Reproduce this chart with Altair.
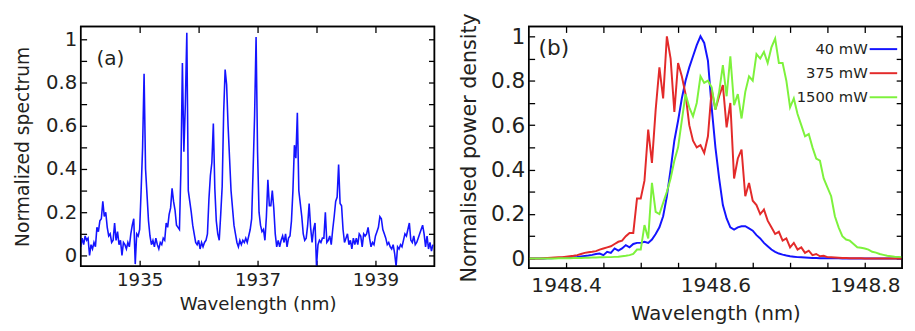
import json
import altair as alt
import pandas as pd

FONT = "DejaVu Sans"
TXT = "#231f20"
FRAME = "black"

# ---------------- panel (a) data ----------------
A_WL = [round(1934 + 0.025 * i, 3) for i in range(240)]
A_SPEC = [
    0.04, 0.08, 0.05, 0.09, 0.07, 0.08, 0.00, 0.05, 0.03, 0.06,
    0.04, 0.13, 0.11, 0.16, 0.17, 0.25, 0.18, 0.20, 0.13, 0.09,
    0.10, 0.06, 0.07, 0.15, 0.07, 0.11, 0.05, 0.07, 0.00, 0.06,
    0.05, 0.03, 0.06, 0.04, 0.10, 0.14, 0.17, -0.04, 0.10, 0.09,
    0.12, 0.30, 0.50, 0.84, 0.40, 0.28, 0.16, 0.09, 0.05, 0.07,
    0.04, 0.08, 0.05, 0.03, 0.06, 0.05, 0.08, 0.07, 0.15, 0.13,
    0.19, 0.22, 0.31, 0.25, 0.21, 0.14, 0.13, 0.12, 0.40, 0.89,
    0.48, 0.70, 1.03, 0.30, 0.25, 0.20, 0.14, 0.10, 0.06, 0.05,
    0.07, 0.03, 0.06, 0.04, 0.06, 0.07, 0.10, 0.26, 0.37, 0.43,
    0.61, 0.31, 0.16, 0.10, 0.07, 0.19, 0.32, 0.66, 0.86, 0.79,
    0.60, 0.45, 0.30, 0.22, 0.14, 0.10, 0.06, 0.04, 0.07, 0.05,
    0.07, 0.06, 0.08, 0.06, 0.09, 0.12, 0.17, 0.40, 0.65, 1.01,
    0.48, 0.20, 0.14, 0.11, 0.12, 0.07, 0.18, 0.35, 0.23, 0.23,
    0.30, 0.22, 0.10, 0.04, 0.07, 0.04, 0.07, 0.09, 0.06, 0.10,
    0.04, 0.08, 0.09, 0.16, 0.30, 0.51, 0.45, 0.66, 0.30, 0.24,
    0.18, 0.10, 0.07, 0.08, 0.14, 0.24, 0.13, 0.06, 0.12, 0.15,
    -0.05, 0.05, 0.07, 0.06, 0.08, 0.08, 0.20, 0.06, 0.07, 0.09,
    0.05, 0.12, 0.18, 0.25, 0.27, 0.42, 0.24, 0.23, 0.12, 0.06,
    0.08, 0.10, 0.05, 0.07, 0.03, 0.08, 0.05, 0.08, 0.05, 0.10,
    0.09, 0.04, 0.10, 0.09, 0.10, 0.13, 0.08, 0.04, 0.06, 0.05,
    0.09, 0.11, 0.13, 0.18, 0.17, 0.12, 0.10, 0.08, 0.05, 0.06,
    0.04, 0.03, 0.05, 0.01, -0.05, 0.04, 0.03, 0.05, 0.04, 0.07,
    0.10, 0.09, 0.12, 0.15, 0.07, 0.06, 0.09, 0.05, 0.06, 0.08,
    0.10, 0.12, 0.14, 0.10, 0.04, 0.09, 0.03, 0.06, 0.02, 0.05,
]
A_X_TICKS = [1935, 1936, 1937, 1938, 1939]
A_X_LABELS = [1935, 1937, 1939]
Y_TICKS = [0, 0.1, 0.2, 0.3, 0.4, 0.5, 0.6, 0.7, 0.8, 0.9, 1]
Y_LABELS = [0, 0.2, 0.4, 0.6, 0.8, 1]

# ---------------- panel (b) data ----------------
B_WL = [round(1948.35 + 0.005 * i, 3) for i in range(101)]
B_40 = [
    0, 0, 0, 0, 0, 0.001, 0.001, 0.002, 0.002, 0.003,
    0.004, 0.005, 0.006, 0.007, 0.009, 0.011, 0.013, 0.016, 0.02, 0.022,
    0.015, 0.03, 0.025, 0.045, 0.035, 0.045, 0.06, 0.05, 0.065, 0.07,
    0.07, 0.075, 0.07, 0.085, 0.11, 0.14, 0.19, 0.28, 0.40, 0.53,
    0.62, 0.72, 0.80, 0.86, 0.91, 0.96, 1.00, 0.97, 0.89, 0.68,
    0.50, 0.36, 0.24, 0.18, 0.14, 0.13, 0.14, 0.145, 0.145, 0.135,
    0.125, 0.105, 0.09, 0.07, 0.055, 0.04, 0.03, 0.022, 0.017, 0.013,
    0.01, 0.008, 0.006, 0.005, 0.004, 0.003, 0.002, 0.002, 0.001, 0.001,
    0.001, 0.001, 0.001, 0.001, 0, 0, 0, 0, 0, 0,
    0, 0, 0, 0, 0, 0, 0, 0, 0, 0,
    0,
]
B_375 = [
    0, 0, 0, 0, 0.001, 0.002, 0.003, 0.004, 0.005, 0.006,
    0.008, 0.01, 0.012, 0.015, 0.02, 0.025, 0.028, 0.03, 0.033, 0.04,
    0.045, 0.05, 0.055, 0.065, 0.075, 0.08, 0.10, 0.115, 0.115, 0.27,
    0.27, 0.35, 0.58, 0.43, 0.67, 0.86, 0.72, 1.00, 0.90, 0.66,
    0.88, 0.82, 0.74, 0.60, 0.53, 0.50, 0.51, 0.475, 0.55, 0.76,
    0.67, 0.73, 0.78, 0.59, 0.70, 0.36, 0.45, 0.49, 0.28, 0.34,
    0.26, 0.24, 0.20, 0.22, 0.17, 0.14, 0.11, 0.12, 0.08, 0.09,
    0.05, 0.07, 0.04, 0.05, 0.025, 0.035, 0.015, 0.02, 0.01, 0.012,
    0.006, 0.005, 0.004, 0.003, 0.002, 0.002, 0.001, 0.001, 0.001, 0.001,
    0, 0, 0, 0, 0, 0, 0, 0, 0, 0,
    0,
]
B_1500 = [
    0, 0, 0, 0, 0, 0, 0, 0, 0.001, 0.001,
    0.001, 0.001, 0.002, 0.002, 0.002, 0.003, 0.003, 0.004, 0.004, 0.005,
    0.005, 0.006, 0.006, 0.007, 0.008, 0.010, 0.012, 0.015, 0.020, 0.040,
    0.040, 0.150, 0.090, 0.340, 0.210, 0.200, 0.250, 0.300, 0.360, 0.440,
    0.500, 0.620, 0.740, 0.680, 0.640, 0.700, 0.820, 0.790, 0.800, 0.770,
    0.670, 0.750, 0.870, 0.730, 0.910, 0.690, 0.740, 0.630, 0.750, 0.820,
    0.800, 0.920, 0.900, 0.930, 0.880, 0.950, 0.990, 0.880, 0.880, 0.800,
    0.680, 0.720, 0.650, 0.600, 0.550, 0.560, 0.500, 0.450, 0.440, 0.360,
    0.320, 0.280, 0.190, 0.140, 0.100, 0.085, 0.080, 0.065, 0.050, 0.048,
    0.045, 0.040, 0.030, 0.026, 0.020, 0.016, 0.012, 0.010, 0.008, 0.007,
    0.006,
]
SERIES = ["40 mW", "375 mW", "1500 mW"]
COLORS = ["#1414ff", "#e32a2a", "#7df23c"]
B_X_TICKS = [1948.4, 1948.45, 1948.5, 1948.55, 1948.6, 1948.65, 1948.7, 1948.75, 1948.8]
B_X_LABELS = [1948.4, 1948.6, 1948.8]

df_a = pd.DataFrame({"wl": A_WL, "v": A_SPEC})
rows = []
for name, vals in zip(SERIES, [B_40, B_375, B_1500]):
    for w, v in zip(B_WL, vals):
        rows.append({"wl": w, "v": v, "s": name})
df_b = pd.DataFrame(rows)


def lab_expr(labels, fmt):
    return f"indexof({json.dumps(labels)}, datum.value) >= 0 ? format(datum.value, '{fmt}') : ''"


def main_axis(orient, values, labels, fmt, lsize, lpad, title, tsize, tpad):
    return alt.Axis(
        orient=orient, values=values, labelExpr=lab_expr(labels, fmt),
        tickSize=6, offset=-6, domain=False, grid=False,
        tickColor=FRAME, tickWidth=1.3,
        labelFont=FONT, labelFontSize=lsize, labelColor=TXT, labelPadding=lpad,
        labelOverlap=False, labelFlush=False, labelBound=False,
        title=title, titleFont=FONT, titleFontSize=tsize, titleFontWeight="normal",
        titleColor=TXT, titlePadding=tpad,
    )


def mirror_axis(orient, values):
    return alt.Axis(
        orient=orient, values=values, labels=False, tickSize=6, offset=-6,
        domain=False, grid=False, tickColor=FRAME, tickWidth=1.3,
    )


def frame():
    return alt.Chart(pd.DataFrame({"f": [0]})).mark_rect(
        fillOpacity=0, stroke=FRAME, strokeWidth=1.5
    ).encode(x=alt.value(0), x2=alt.value("width"),
             y=alt.value(0), y2=alt.value("height"))


# ---------------- panel (a) ----------------
xa = alt.Scale(domain=[1934, 1940], nice=False, zero=False)
ya = alt.Scale(domain=[-0.05, 1.059], nice=False, zero=False)

line_a = alt.Chart(df_a).mark_line(color=COLORS[0], strokeWidth=1.6).encode(
    x=alt.X("wl:Q", scale=xa,
            axis=main_axis("bottom", A_X_TICKS, A_X_LABELS, "d", 18.5, 5,
                           "Wavelength (nm)", 18.5, 6)),
    y=alt.Y("v:Q", scale=ya,
            axis=main_axis("left", Y_TICKS, Y_LABELS, "~g", 20, 4,
                           "Normalized spectrum", 19, 13)),
)
mirror_a = alt.Chart(df_a).mark_line(strokeOpacity=0).encode(
    x=alt.X("wl:Q", scale=xa, axis=mirror_axis("top", A_X_TICKS), title=None),
    y=alt.Y("v:Q", scale=ya, axis=mirror_axis("right", Y_TICKS), title=None),
)
tag_a = alt.Chart(pd.DataFrame({"t": ["(a)"]})).mark_text(
    align="left", baseline="middle", font=FONT, fontSize=20.5, color=TXT
).encode(text="t:N", x=alt.value(16), y=alt.value(33))

panel_a = alt.layer(line_a, mirror_a, tag_a, frame()).resolve_axis(
    x="independent", y="independent"
).properties(width=360, height=244)

# ---------------- panel (b) ----------------
xb = alt.Scale(domain=[1948.35, 1948.85], nice=False, zero=False)
yb = alt.Scale(domain=[-0.044, 1.044], nice=False, zero=False)
cscale = alt.Scale(domain=SERIES, range=COLORS)

line_b = alt.Chart(df_b).mark_line(strokeWidth=2).encode(
    x=alt.X("wl:Q", scale=xb,
            axis=main_axis("bottom", B_X_TICKS, B_X_LABELS, ".1f", 20.5, 8,
                           "Wavelength (nm)", 20, 8)),
    y=alt.Y("v:Q", scale=yb,
            axis=main_axis("left", Y_TICKS, Y_LABELS, "~g", 22, 4,
                           "Normalised power density", 21, 11)),
    color=alt.Color("s:N", scale=cscale, legend=None),
)
mirror_b = alt.Chart(df_b).mark_line(strokeOpacity=0).encode(
    x=alt.X("wl:Q", scale=xb, axis=mirror_axis("top", B_X_TICKS), title=None),
    y=alt.Y("v:Q", scale=yb, axis=mirror_axis("right", Y_TICKS), title=None),
    detail="s:N",
)
tag_b = alt.Chart(pd.DataFrame({"t": ["(b)"]})).mark_text(
    align="left", baseline="middle", font=FONT, fontSize=22, color=TXT
).encode(text="t:N", x=alt.value(10), y=alt.value(22))

# legend: label on the left, line sample on the right
leg_df = pd.DataFrame({"s": SERIES})
leg_y = alt.Y("s:N", scale=alt.Scale(type="point", domain=SERIES, range=[23, 72], padding=0),
              axis=None)
leg_text = alt.Chart(leg_df).mark_text(
    align="right", baseline="middle", font=FONT, fontSize=15, color=TXT
).encode(text="s:N", x=alt.value(345), y=leg_y)
leg_line = alt.Chart(leg_df).mark_rule(strokeWidth=2).encode(
    x=alt.value(347), x2=alt.value(375), y=leg_y,
    color=alt.Color("s:N", scale=cscale, legend=None),
)

panel_b = alt.layer(line_b, mirror_b, tag_b, leg_text, leg_line, frame()).resolve_axis(
    x="independent", y="independent"
).resolve_scale(y="independent").properties(width=380, height=246)

chart = alt.hconcat(panel_a, panel_b, spacing=21).properties(
    padding={"left": 5, "top": 1, "right": 0, "bottom": 0},
    background="white",
).configure_view(stroke=FRAME, strokeWidth=1.5)

chart.save("out.html", embed_options={"renderer": "svg", "actions": False})
